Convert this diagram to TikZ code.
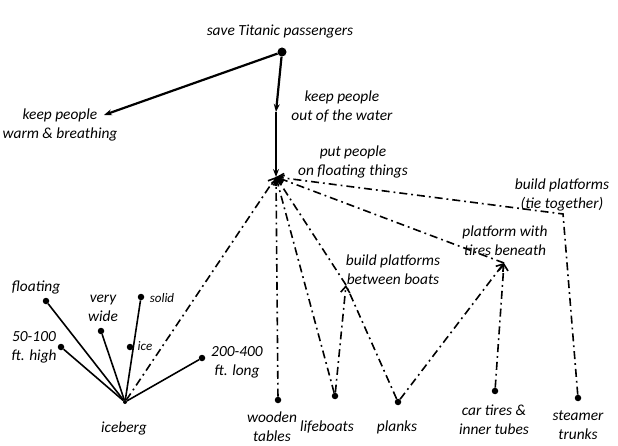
\documentclass[tikz,border=0pt]{standalone}
\usepackage{fontspec}
\setmainfont{Carlito}
\usetikzlibrary{arrows.meta,positioning}
\tikzset{
  >={Stealth[length=2.8mm]},
  lbl/.style={align=center, inner sep=0pt, font=\itshape\fontsize{15.4}{19}\selectfont},
  tiny lbl/.style={align=center, inner sep=0pt, font=\itshape\fontsize{13}{15}\selectfont},
  dot/.style={circle, fill, inner sep=0pt, minimum size=6.5pt},
  goal/.style={line width=2.2pt},
  attr/.style={line width=1.6pt},
  route/.style={line width=1.6pt, dash pattern=on 8pt off 4pt on 1.8pt off 4pt,
    -{Straight Barb[length=2.2mm, width=3.2mm]}},
}
\begin{document}
\begin{tikzpicture}[x=1pt, y=-1pt]
  \useasboundingbox (0,0) rectangle (618,446);
  % goal and sub-goals
  \node[dot, minimum size=9pt] (save) at (282,52) {};
  \node[lbl] (saveL) at (280,32) {save Titanic passengers};
  \coordinate (warm) at (104,115);
  \node[lbl] (warmL) at (60,125) {keep people\\warm \& breathing};
  \coordinate (mid) at (276,112);
  \coordinate (T) at (276,177);
  \node[lbl] (outL) at (342,107) {keep people\\out of the water};
  \node[lbl] (putL) at (353,162) {put people\\on floating things};
  \draw[goal, ->] (save) -- (warm);
  \draw[goal, ->] (save) -- (mid);
  \draw[goal, ->] (mid) -- (T);
  % iceberg
  \node[dot, minimum size=4pt] (ib) at (125,402) {};
  \node[lbl] (ibL) at (124,428) {iceberg};
  \node[dot] (flt) at (46,301) {};
  \node[lbl] (fltL) at (36,287) {floating};
  \node[dot] (high) at (61,347) {};
  \node[lbl] (highL) at (34,347) {50-100\\ft. high};
  \node[dot] (wide) at (101,331) {};
  \node[lbl] (wideL) at (103,308) {very\\wide};
  \node[dot] (solid) at (141,297) {};
  \node[tiny lbl] (solidL) at (162,298) {solid};
  \node[dot] (ice) at (130,347) {};
  \node[tiny lbl] (iceL) at (145,346) {ice};
  \node[dot] (long) at (202,358) {};
  \node[lbl] (longL) at (237,362) {200-400\\ft. long};
  \foreach \n in {flt,high,wide,solid,long}
    \draw[attr] (ib) -- (\n);
  % floating things
  \node[dot] (tables) at (278,400) {};
  \node[lbl] (tablesL) at (272,427) {wooden\\tables};
  \node[dot] (boats) at (335,396) {};
  \node[lbl] (boatsL) at (327,427) {lifeboats};
  \node[dot] (planks) at (398,402) {};
  \node[lbl] (planksL) at (397,427) {planks};
  \node[dot] (tires) at (495,391) {};
  \node[lbl] (tiresL) at (494,420) {car tires \&\\inner tubes};
  \node[dot] (trunks) at (578,398) {};
  \node[lbl] (trunksL) at (578,425) {steamer\\trunks};
  \coordinate (between) at (346,285);
  \node[lbl] (betweenL) at (393,270) {build platforms\\between boats};
  \coordinate (beneath) at (504,263);
  \node[lbl] (beneathL) at (505,241) {platform with\\tires beneath};
  \coordinate (tie) at (563,214);
  \node[lbl] (tieL) at (562,195) {build platforms\\(tie together)};
  \draw[route] (ib) -- (T);
  \draw[route] (tables) -- (T);
  \draw[route] (boats) -- (T);
  \draw[route] (boats) -- (between);
  \draw[route] (planks) -- (between) -- (T);
  \draw[route] (planks) -- (beneath);
  \draw[route] (tires) -- (beneath);
  \draw[route] (beneath) -- (T);
  \draw[route] (trunks) -- (tie) -- (T);
\end{tikzpicture}
\end{document}
